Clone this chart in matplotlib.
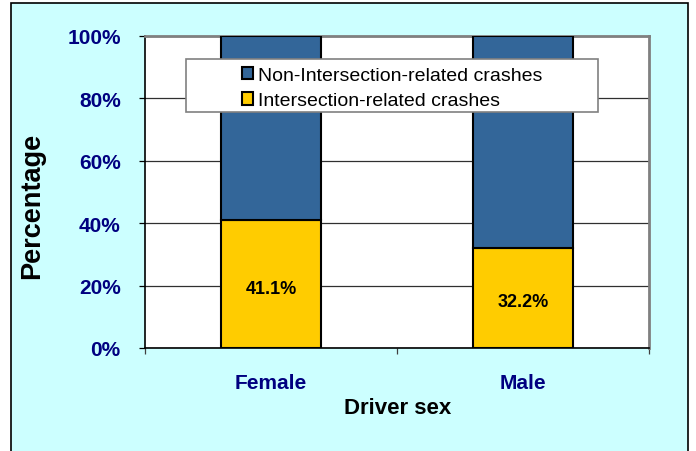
import numpy as np
import matplotlib.pyplot as plt
from matplotlib.patches import Rectangle
from matplotlib.ticker import FixedLocator, PercentFormatter

plt.rcParams['font.family'] = ['Liberation Sans', 'DejaVu Sans']

categories = ['Female', 'Male']
intersection = [41.1, 32.2]
non_intersection = [100 - v for v in intersection]
labels = ['41.1%', '32.2%']

navy = '#000080'
blue = '#336699'
yellow = '#FFCC00'

fig = plt.figure(figsize=(6.96, 4.52), dpi=100, facecolor='white')

# cyan chart area with black border
fig.add_artist(Rectangle((11 / 696, -0.05), 677 / 696, 1.05 - 4 / 452,
                         transform=fig.transFigure, facecolor='#CCFFFF',
                         edgecolor='black', linewidth=1.2, zorder=-10))

ax = fig.add_axes([145 / 696, 1 - 349 / 452, 504 / 696, 312 / 452])
ax.set_facecolor('white')

x = np.arange(len(categories))
ax.bar(x, intersection, width=0.4, color=yellow, edgecolor='black',
       linewidth=1.5, zorder=3, label='Intersection-related crashes')
ax.bar(x, non_intersection, width=0.4, bottom=intersection, color=blue,
       edgecolor='black', linewidth=1.5, zorder=3,
       label='Non-Intersection-related crashes')

for xi, v, t in zip(x, intersection, labels):
    ax.annotate(t, (xi, v / 2), xytext=(0, -3), textcoords='offset points',
                ha='center', va='center', fontsize=13,
                fontweight='bold', color='black', zorder=4)

ax.set_xlim(-0.5, 1.5)
ax.set_ylim(0, 100)
ax.set_yticks([0, 20, 40, 60, 80, 100])
ax.yaxis.set_major_formatter(PercentFormatter(decimals=0))
ax.set_xticks(x)
ax.set_xticklabels(categories)
ax.xaxis.set_minor_locator(FixedLocator([-0.5, 0.5, 1.5]))

ax.grid(axis='y', color='#303030', linewidth=0.9, zorder=1)
ax.tick_params(axis='y', direction='out', length=4.5, width=0.9,
               pad=13, labelsize=15, labelcolor=navy)
ax.tick_params(axis='x', which='major', length=0, pad=18,
               labelsize=15, labelcolor=navy)
ax.tick_params(axis='x', which='minor', direction='out', length=4,
               width=0.9, color='#404040')
for lab in ax.get_xticklabels() + ax.get_yticklabels():
    lab.set_fontweight('bold')

for s in ['top', 'right']:
    ax.spines[s].set_color('#808080')
    ax.spines[s].set_linewidth(2)
for s in ['left', 'bottom']:
    ax.spines[s].set_color('black')
    ax.spines[s].set_linewidth(1.2)

ax.set_ylabel('Percentage', fontsize=19.5, fontweight='bold')
ax.yaxis.set_label_coords(-0.198, 0.46)
ax.set_xlabel('Driver sex', fontsize=16, fontweight='bold')
ax.xaxis.set_label_coords(0.502, -0.157)

# legend box
fig.add_artist(Rectangle((186 / 696, 1 - 113 / 452), 412 / 696, 53 / 452,
                         transform=fig.transFigure, facecolor='white',
                         edgecolor='#808080', linewidth=1.2, zorder=5))
handles, names = ax.get_legend_handles_labels()
leg = fig.legend(handles[::-1], names[::-1], loc='center',
                 bbox_to_anchor=(392 / 696, 1 - 89 / 452), frameon=False,
                 fontsize=14, handlelength=0.6, handleheight=0.6,
                 handletextpad=0.25, labelspacing=0.45, borderpad=0.1)
leg.set_zorder(6)
for h in leg.legend_handles:
    h.set_linewidth(1.5)

fig.savefig('out.png', dpi=100, facecolor='white')
